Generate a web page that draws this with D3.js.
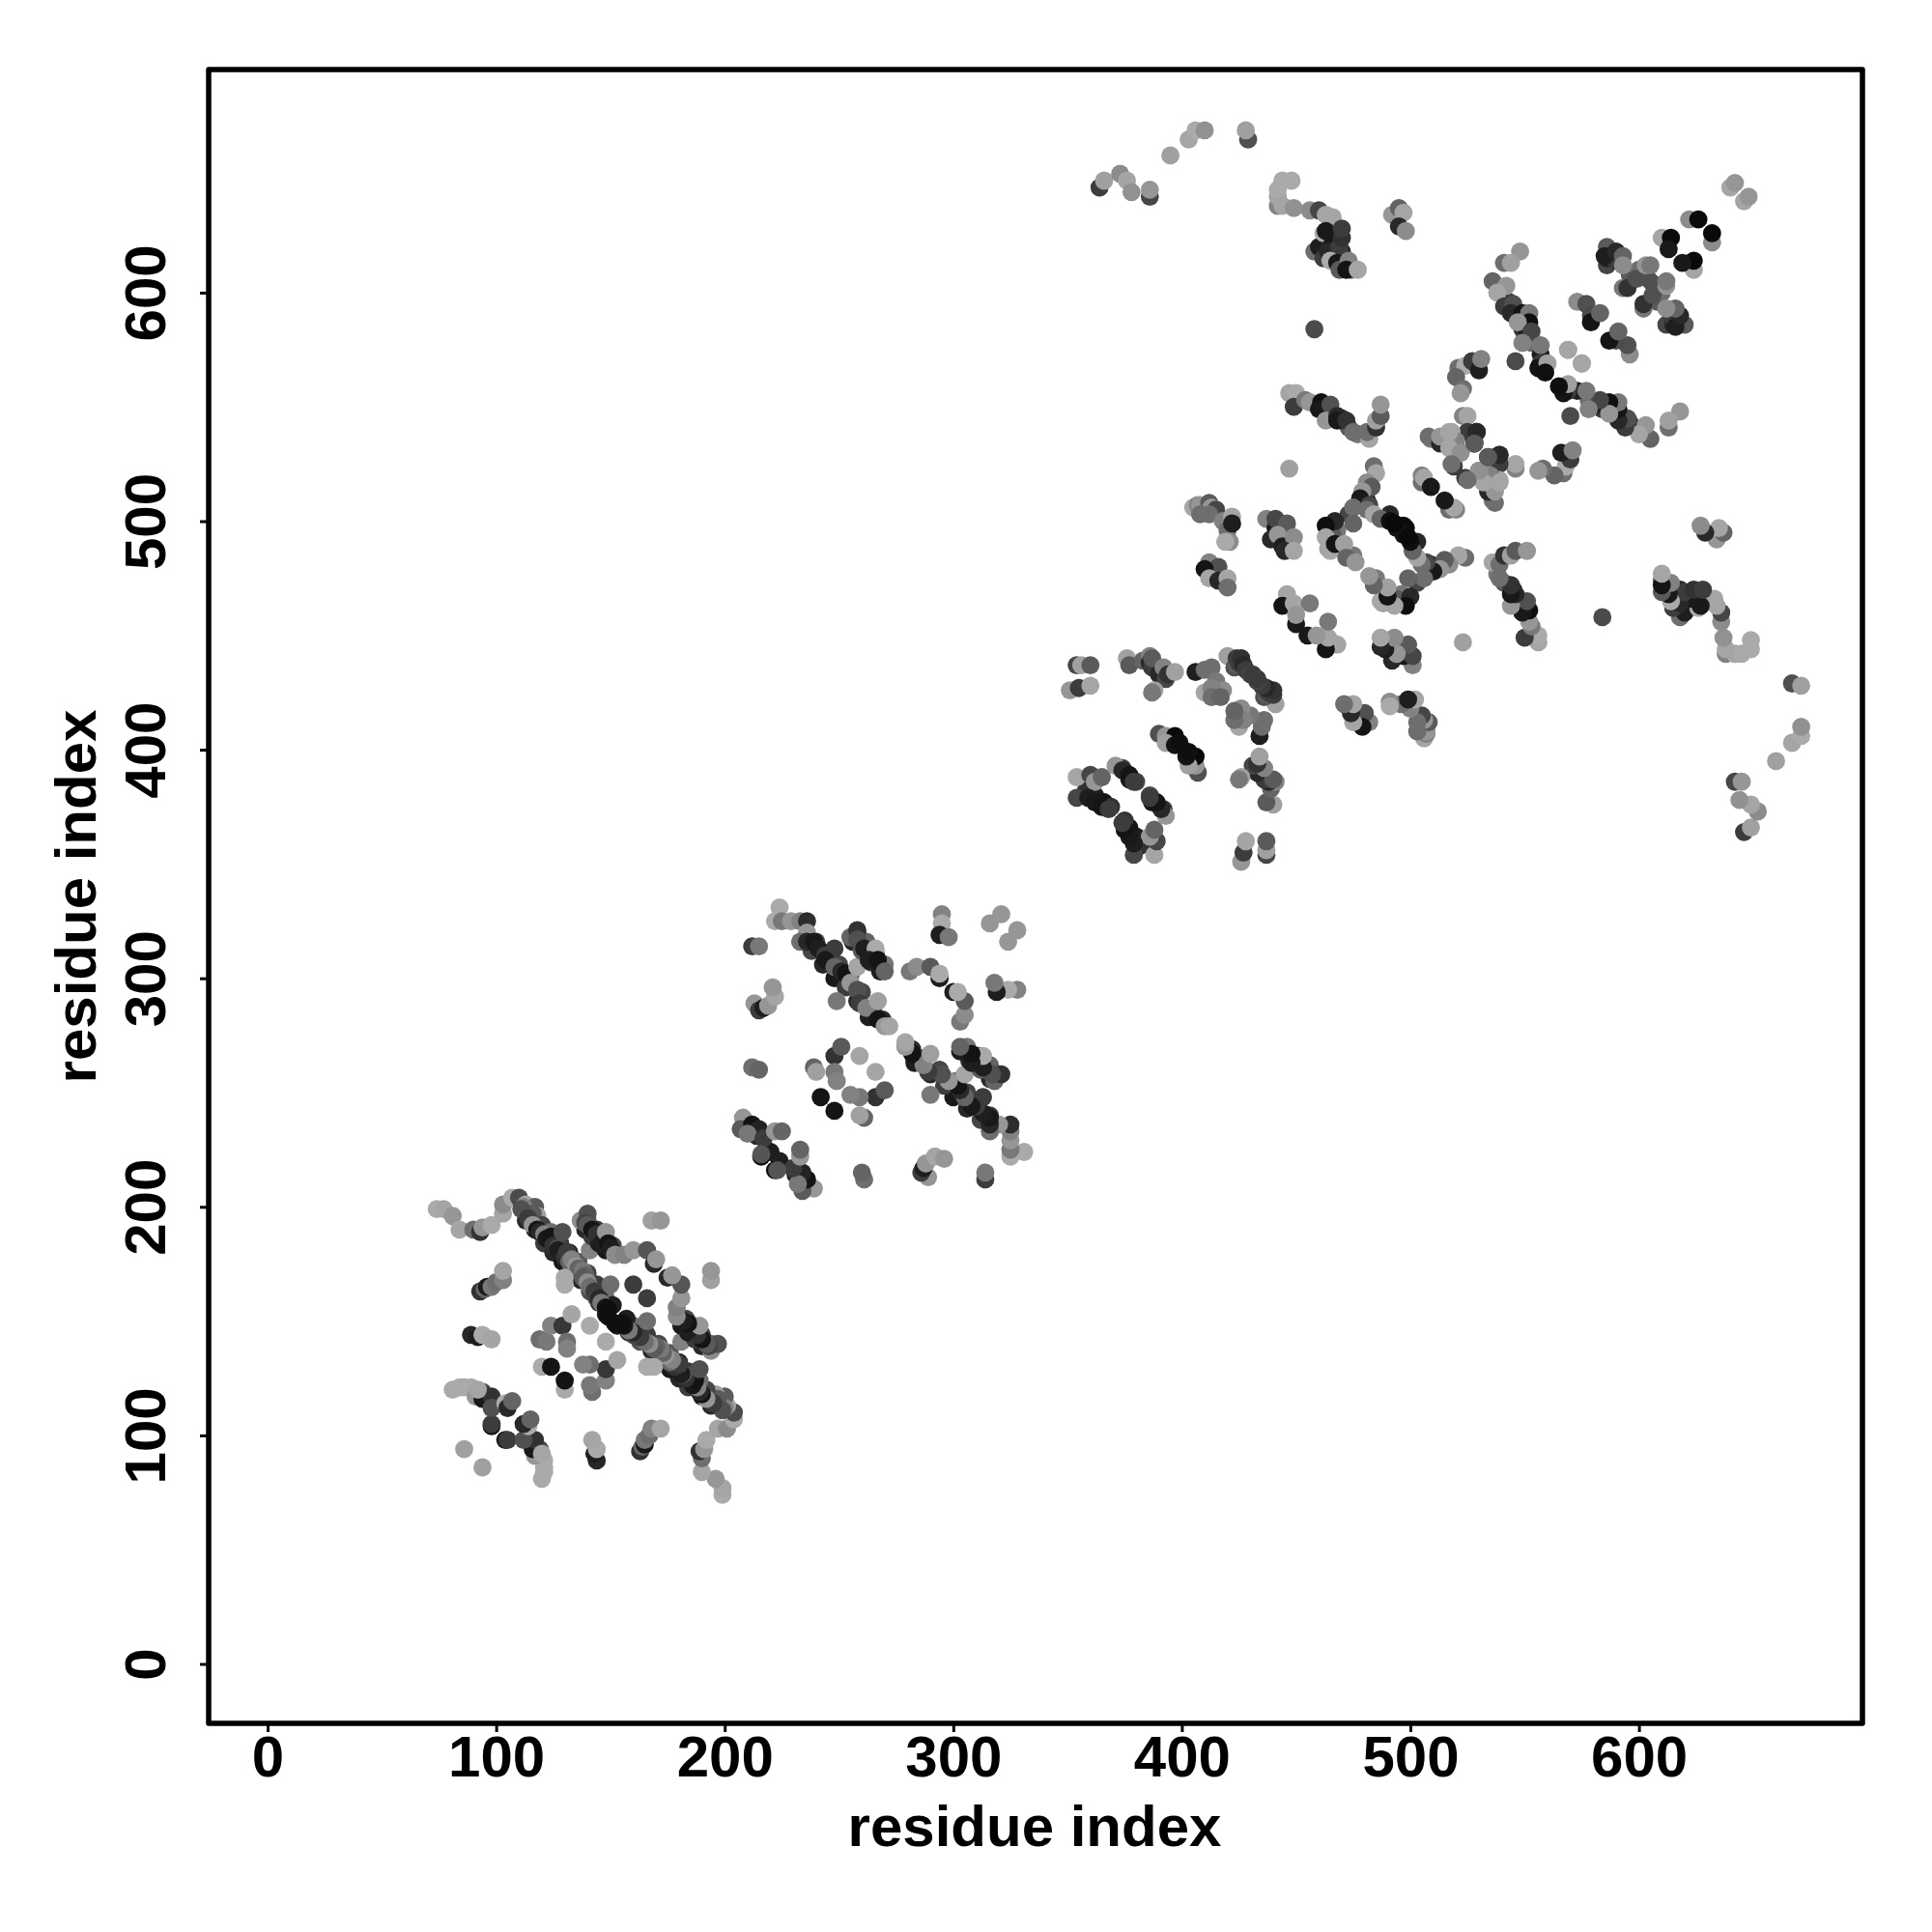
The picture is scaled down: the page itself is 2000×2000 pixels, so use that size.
<!DOCTYPE html>
<html><head><meta charset="utf-8">
<script src="https://cdn.jsdelivr.net/npm/d3@7"></script>
<style>html,body{margin:0;padding:0;background:#fff}svg{display:block}</style>
</head><body><div id="chart"></div>
<script>
// Contact map: each row = [residue a, residue b, shade level]; the map is symmetric.
const xTicks = [0,100,200,300,400,500,600];
const yTicks = [0,100,200,300,400,500,600];
const xTitle = "residue index";
const yTitle = "residue index";

const domainTail = [[74,199,170],[77,199,165],[81,196,150],[84,190,165],[90,190,110],[93,189,50],[94,191,150],[98,192,170],[103,197,165],[103,201,140],[107,204,170],[110,204,75],[113,201,165],[117,200,90],[118,196,160]];
const domainOneBandLower = [[113,194,40],[117,190,30],[121,184,60],[125,180,40],[129,176,25],[133,172,60],[137,168,40],[141,163,80],[145,158,50],[148,153,30]];
const domainOneBandUpper = [[112,200,130],[116,197,90],[120,192,70],[124,189,110],[128,184,60],[132,180,40],[136,176,90],[140,171,70],[144,166,60],[148,160,110],[151,157,30]];
const domainOneMain = [[111,199,80],[114,195,60],[116,192,150],[118,190,20],[119,189,40],[121,188,130],[122,186,25],[124,187,20],[125,183,50],[127,182,80],[127,181,30],[128,180,30],[129,189,80],[130,178,50],[131,180,60],[132,176,100],[133,177,130],[135,174,150],[136,173,100],[138,172,120],[139,170,100],[138,169,90],[140,167,140],[141,165,110],[143,163,60],[144,160,70],[145,160,40],[146,158,120],[148,156,20],[149,155,15],[149,152,15],[150,166,110],[130,169,170],[130,166,170],[141,181,130],[160,166,60]];
const domainOneSecondBand = [[139,190,40],[142,187,60],[145,184,30],[148,181,25],[140,194,100],[144,190,60],[148,186,90],[151,183,70]];
const domainOneSecond = [[137,194,140],[140,197,80],[139,193,70],[140,192,90],[142,190,20],[144,188,50],[146,184,30],[148,189,150],[149,184,20],[150,182,30],[152,179,140],[156,179,130],[160,181,150],[166,181,85],[169,175,40],[170,177,150],[168,194,160],[172,194,150]];
const domainOneIslands = [[93,163,50],[95,164,100],[96,165,25],[98,165,120],[100,167,110],[103,168,130],[103,172,165],[89,144,40],[92,143,30],[94,144,170],[98,142,165],[119,142,110],[122,141,120],[124,148,130],[129,148,55],[133,153,165],[131,141,110],[131,138,130],[141,148,170],[120,130,170],[124,130,20]];
const domainOneLow = [[81,120,170],[84,121,170],[86,121,170],[89,121,170],[91,117,150],[94,119,70],[94,116,25],[98,117,50],[98,104,20],[98,105,60],[98,112,80],[104,114,170],[105,112,40],[107,115,100],[86,94,160],[92,120,165]];

const domainTwoBandLower = [[238,312,70],[243,306,40],[248,300,25],[253,296,60],[258,290,40],[263,283,30]];
const domainTwoBandUpper = [[240,316,60],[245,311,80],[250,306,70],[255,301,110],[260,294,70],[265,287,60],[269,282,40]];
const domainTwoMain = [[224,331,170],[222,325,170],[225,325,120],[229,325,150],[233,325,130],[236,325,45],[236,320,150],[233,316,110],[236,316,40],[239,316,25],[241,313,30],[244,310,60],[248,313,60],[244,308,25],[248,305,100],[251,303,40],[253,302,20],[255,298,150],[258,305,165],[258,295,80],[259,289,60],[249,290,120],[262,287,130],[267,290,160],[267,282,20],[270,279,150],[272,279,165]];
const domainTwoSecondBand = [[256,316,40],[260,312,90],[264,307,50],[268,303,30],[258,320,60],[262,316,100],[266,311,60],[270,306,120]];
const domainTwoSecond = [[255,318,100],[258,321,50],[258,317,80],[261,313,30],[266,313,170],[263,308,30],[267,308,20],[270,303,100],[281,303,120],[284,305,140],[290,305,90],[294,300,30],[294,302,170]];
const domainTwoIslands = [[295,328,130],[295,324,170],[294,319,30],[298,318,120],[316,324,150],[321,328,150],[212,314,60],[215,314,120],[213,289,150],[215,286,60],[217,287,30],[219,288,150],[222,292,165],[221,296,150],[212,261,110],[215,260,100],[239,261,100],[240,259,160],[248,266,50],[251,270,90],[248,259,120],[249,255,130],[259,266,165],[242,248,20]];
const domainTwoLow = [[209,237,30],[214,231,40],[218,225,40],[220,224,30],[208,239,150],[207,234,90],[212,236,20],[215,234,35],[210,232,120],[217,230,60],[222,233,150],[225,233,100],[216,222,15],[216,223,85]];

const domainThreeTail = [[364,646,60],[366,649,160],[373,652,140],[376,649,165],[378,644,145],[386,642,70],[386,645,150],[395,660,160],[403,667,165],[406,671,170],[410,671,145],[429,667,80],[428,671,160],[640,646,165],[642,648,150]];
const domainThreeTop = [[442,638,130],[442,642,165],[442,645,170],[444,649,170],[448,649,170],[444,638,165],[449,637,145],[456,636,140],[460,636,70],[463,634,165],[466,633,165],[458,618,110],[460,620,30],[462,626,170],[463,627,25],[462,615,60],[466,622,25],[470,618,40],[468,616,30],[474,610,100],[464,618,40],[469,620,60],[470,624,50],[470,628,60],[465,614,170],[468,613,25],[469,610,90],[473,614,130],[472,610,20],[477,610,165],[458,584,75],[492,634,150],[495,637,100],[497,635,165],[495,629,40],[498,627,140]];
const domainThreeUpperBand = [[543,596,60],[546,592,90],[549,584,60],[551,582,30],[553,578,110],[557,573,30],[558,566,70],[586,612,70],[586,615,40],[590,614,60],[596,608,90],[600,610,110],[604,606,80]];
const domainThreeUpper = [[548,618,150],[541,613,110],[544,613,160],[536,605,100],[542,603,150],[538,600,165],[541,594,60],[545,595,80],[544,591,40],[549,591,20],[552,591,120],[552,587,15],[547,587,150],[553,583,70],[549,578,130],[557,577,120],[546,570,75],[557,569,60],[556,567,20],[560,569,160],[559,565,15],[569,575,165],[575,569,165],[521,567,110],[524,568,170],[520,563,100],[527,570,60],[530,566,30],[531,571,130],[523,558,110],[522,556,150],[523,546,130],[525,546,165],[525,539,60],[529,539,40],[528,534,25],[518,539,165],[522,530,130],[519,524,60],[586,620,90],[585,616,30],[590,618,40],[593,616,100],[593,612,140],[573,596,140],[577,595,80],[579,590,75],[579,587,20],[583,591,100],[593,602,120],[595,602,50],[599,606,80],[603,612,150],[605,612,120],[610,624,165],[614,624,10],[613,619,25],[622,632,140],[626,632,10]];
const domainThreeMiddleBand = [[459,551,70],[463,549,30],[466,547,60],[470,545,40],[473,541,90],[477,538,120],[491,503,40],[497,498,10],[494,497,20],[481,509,40],[473,503,70],[468,496,120],[466,494,90],[471,487,110],[475,485,120],[465,487,170],[520,535,130],[509,536,120],[505,517,110]];
const domainThreeMiddle = [[447,556,165],[450,556,170],[449,550,60],[454,553,120],[456,552,150],[461,552,15],[460,549,25],[465,551,80],[463,544,150],[468,546,40],[468,544,25],[472,544,50],[475,539,110],[482,536,165],[481,539,110],[485,541,50],[485,544,160],[487,546,90],[487,551,150],[447,523,160],[484,524,110],[485,521,165],[481,517,140],[483,515,90],[479,513,150],[478,510,25],[475,506,110],[482,507,70],[481,505,110],[475,499,100],[467,500,40],[463,498,15],[463,493,165],[464,488,165],[467,490,20],[471,490,160],[472,484,100],[476,482,150],[484,503,165],[487,501,100],[491,500,15],[493,499,10],[508,537,110],[513,534,40],[513,537,150],[517,539,165],[517,532,165],[522,530,145],[518,525,110],[529,539,40],[528,534,90],[505,520,130],[506,519,165],[509,515,25]];
const domainThreeSide = [[405,506,165],[407,507,130],[408,507,150],[412,508,90],[413,506,150],[415,505,70],[408,503,110],[412,503,110],[418,500,130],[420,496,110],[422,502,165],[422,499,30],[421,491,140],[419,491,170],[412,482,130],[416,480,80],[410,479,20],[412,475,165],[416,474,40],[420,475,165],[420,471,110],[437,501,130],[441,497,25],[441,501,70],[443,496,70],[446,491,50],[446,499,90],[439,492,40],[442,494,150],[444,489,30],[449,493,140],[445,487,40],[449,487,165],[446,468,165],[444,463,20],[449,464,165],[456,464,120],[450,455,25],[450,459,150]];
const domainThreeRing = [[358,382,50],[362,380,30],[366,377,20],[369,375,50],[374,392,60],[377,387,25],[380,386,70]];
const domainThreeLow = [[354,437,70],[356,437,160],[360,437,90],[351,426,150],[355,427,60],[360,428,165],[376,440,160],[377,437,90],[383,439,100],[386,441,130],[386,438,40],[387,436,60],[387,440,90],[390,433,40],[392,436,130],[393,431,70],[394,433,50],[397,434,160],[388,426,160],[387,425,120],[406,434,30],[410,435,110],[413,436,110],[415,430,120],[418,426,140],[420,441,160],[423,436,80],[424,437,90],[425,438,60],[424,440,60],[426,440,50],[427,437,40],[428,435,60],[430,433,70],[433,431,60],[410,425,165],[413,427,130],[413,423,110],[417,423,100],[390,407,80],[393,406,150],[397,406,10],[393,403,160],[397,402,20],[399,403,15],[354,388,165],[360,389,70],[362,386,150],[365,388,100],[371,393,150],[374,391,40],[377,389,20],[379,386,60],[354,379,70],[359,379,30],[362,377,25],[365,375,20],[368,374,60]];

const contacts = [].concat(domainTail,domainOneBandLower,domainOneBandUpper,domainOneMain,domainOneSecondBand,domainOneSecond,domainOneIslands,domainOneLow,
  domainTwoBandLower,domainTwoBandUpper,domainTwoMain,domainTwoSecondBand,domainTwoSecond,domainTwoIslands,domainTwoLow,
  domainThreeTail,domainThreeTop,domainThreeUpperBand,domainThreeUpper,domainThreeMiddleBand,domainThreeMiddle,domainThreeSide,domainThreeRing,domainThreeLow);

const W = 2000, H = 2000;
const frame = {left:216, right:1928, top:72, bottom:1784};
const x = d3.scaleLinear().domain([-25.8,697.8]).range([frame.left,frame.right]);
const y = d3.scaleLinear().domain([-26,697.6]).range([frame.bottom,frame.top]);
const shade = d3.scaleLinear().domain([0,255]).range(["#000000","#ffffff"]);

const svg = d3.select("#chart").append("svg").attr("width",W).attr("height",H)
  .style("font-family","'Liberation Sans',Arial,sans-serif").style("font-weight","bold");

const marks = contacts.flatMap(([a,b,s]) => [{px:a,py:b,s},{px:b,py:a,s}]);
svg.append("g").selectAll("circle").data(marks).join("circle")
  .attr("cx",d=>x(d.px)).attr("cy",d=>y(d.py)).attr("r",9.4)
  .attr("fill",d=>shade(d.s));

const xAxis = svg.append("g").attr("transform",`translate(0,${frame.bottom})`)
  .call(d3.axisBottom(x).tickValues(xTicks).tickSize(9).tickFormat(d3.format("d")));
xAxis.select(".domain").remove();
xAxis.selectAll("line").attr("stroke","#000").attr("stroke-width",3);
xAxis.selectAll("text").attr("y",55).attr("dy",0).attr("fill","#000").style("font-size","60px").attr("font-family",null);

const yAxis = svg.append("g").attr("transform",`translate(${frame.left},0)`)
  .call(d3.axisLeft(y).tickValues(yTicks).tickSize(9).tickFormat(d3.format("d")));
yAxis.select(".domain").remove();
yAxis.selectAll("line").attr("stroke","#000").attr("stroke-width",3);
yAxis.selectAll("text").attr("x",0).attr("dy",0).attr("text-anchor","middle")
  .attr("transform","translate(-45,0) rotate(-90)").attr("fill","#000").style("font-size","60px").attr("font-family",null);

svg.append("rect").attr("x",frame.left).attr("y",frame.top)
  .attr("width",frame.right-frame.left).attr("height",frame.bottom-frame.top)
  .attr("fill","none").attr("stroke","#000").attr("stroke-width",5.5).attr("stroke-linejoin","round");

svg.append("text").attr("x",1071).attr("y",1911).attr("text-anchor","middle").style("font-size","60px").text(xTitle);
svg.append("text").attr("transform","translate(99,928) rotate(-90)").attr("text-anchor","middle").style("font-size","60px").text(yTitle);
</script></body></html>
